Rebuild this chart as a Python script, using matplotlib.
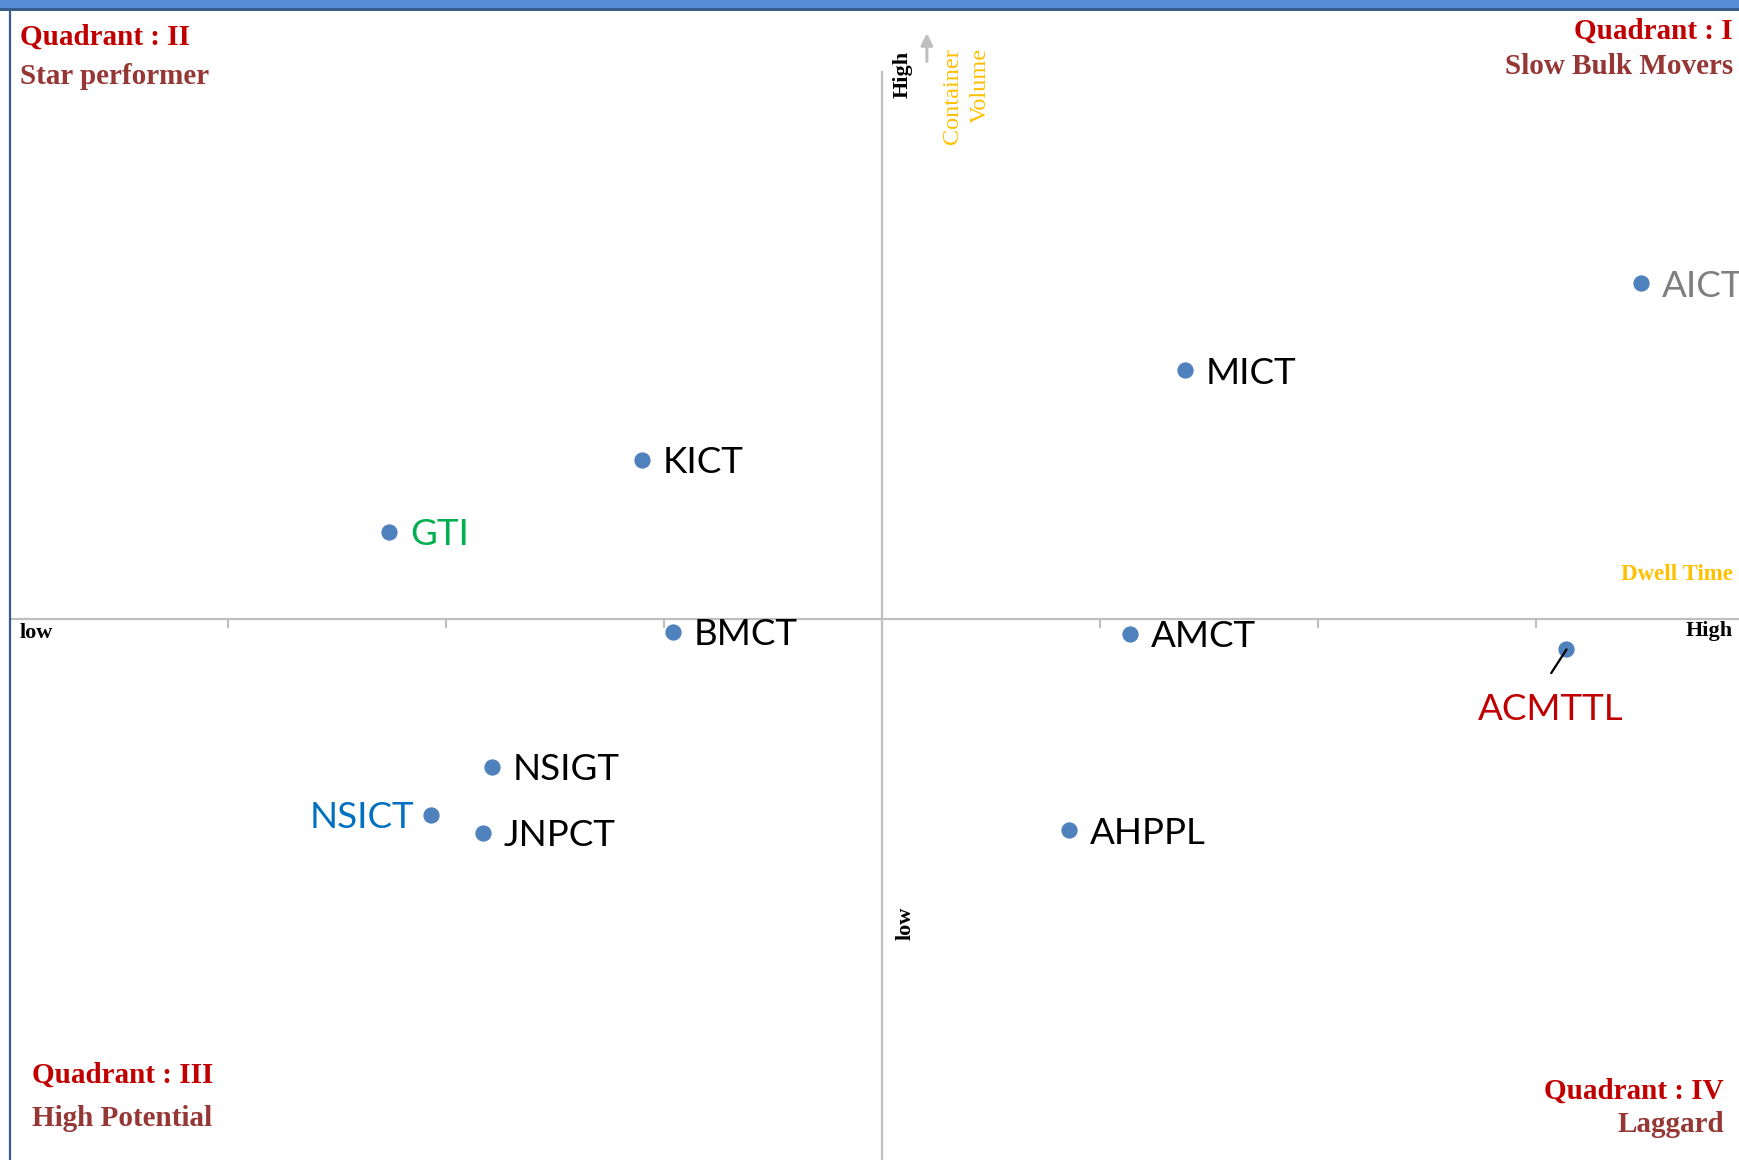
import matplotlib
matplotlib.use("Agg")
import matplotlib.pyplot as plt
from matplotlib.patches import Rectangle
from matplotlib.lines import Line2D

# terminals: x = dwell time (relative), y = container volume (relative)
names = ["AICT", "MICT", "KICT", "GTI", "BMCT", "AMCT", "ACMTTL", "NSIGT", "NSICT", "JNPCT", "AHPPL"]
dwell = [3.48, 1.39, -1.10, -2.26, -0.96, 1.14, 3.14, -1.79, -2.07, -1.83, 0.86]
volume = [1.54, 1.14, 0.73, 0.40, -0.06, -0.07, -0.14, -0.68, -0.90, -0.98, -0.97]
label_colors = ["#7F7F7F", "black", "black", "#00B050", "black", "black", "#C00000",
                "black", "#0070C0", "black", "black"]

W, H = 1740, 1160
fig = plt.figure(figsize=(W / 100, H / 100), dpi=100)


def px(x, y):  # full-size pixel (top-left origin) -> figure fraction
    return x / W, 1 - y / H


ax = fig.add_axes([10 / W, 0, 1 - 10 / W, 1 - 11 / H])
ax.set_xlim(-4, 3.936)
ax.set_ylim(-2.482, 2.789)

GRID = "#BFBFBF"
for s in ("top", "right"):
    ax.spines[s].set_visible(False)
ax.spines["bottom"].set_position(("data", 0))
ax.spines["left"].set_position(("data", 0))
ax.spines["left"].set_bounds(-2.482, 2.51)
for s in ("bottom", "left"):
    ax.spines[s].set_color(GRID)
    ax.spines[s].set_linewidth(1.6)
ax.set_xticks(range(-3, 4))
ax.set_xticklabels([])
ax.set_yticks([])
ax.tick_params(axis="x", direction="out", length=6.5, width=1.5, color=GRID)

ax.scatter(dwell, volume, s=115, color="#4F81BD", zorder=3)

LBL = ["Lato", "DejaVu Sans"]
FS = 26.5
for n, x, y, c in zip(names, dwell, volume, label_colors):
    if n == "NSICT":
        ax.annotate(n, (x, y), xytext=(-12, -2), textcoords="offset points",
                    ha="right", va="center", fontsize=FS, color=c, family=LBL)
    elif n == "ACMTTL":
        ax.annotate("", (x, y), xytext=(-11, -17), textcoords="offset points",
                    arrowprops=dict(arrowstyle="-", color="black", lw=1.6,
                                    shrinkA=0, shrinkB=0))
        ax.annotate(n, (x, y), xytext=(-11, -43), textcoords="offset points",
                    ha="center", va="center", fontsize=FS, color=c, family=LBL)
    else:
        ax.annotate(n, (x, y), xytext=(15, -2), textcoords="offset points",
                    ha="left", va="center", fontsize=FS, color=c, family=LBL)

# axis arrows
ax.annotate("", xy=(0.206, 2.70), xytext=(0.206, 2.545),
            arrowprops=dict(arrowstyle="-|>,head_width=0.35,head_length=0.7",
                            color=GRID, lw=2.2))
ax.annotate("", xy=(3.95, 0.02), xytext=(3.80, 0.02),
            arrowprops=dict(arrowstyle="-", color=GRID, lw=2.2))

# frame decorations: top bar + left border
fig.patches.append(Rectangle((0, 1 - 8 / H), 1, 8 / H, transform=fig.transFigure,
                             facecolor="#558ED5", edgecolor="none"))
fig.patches.append(Rectangle((0, 1 - 11 / H), 1, 3 / H, transform=fig.transFigure,
                             facecolor="#385D8A", edgecolor="none"))
fig.lines.append(Line2D([10 / W, 10 / W], [0, 1 - 11 / H], transform=fig.transFigure,
                        color="#385D8A", lw=1.6))

SERIF = ["Liberation Serif", "DejaVu Serif"]
RED, BROWN, GOLD = "#C00000", "#953735", "#FFC000"

quad = [
    ("Quadrant : II", RED, 20, 37, "left"),
    ("Star performer", BROWN, 20, 76, "left"),
    ("Quadrant : I", RED, 1733, 31, "right"),
    ("Slow Bulk Movers", BROWN, 1733, 67, "right"),
    ("Quadrant : III", RED, 32, 1075, "left"),
    ("High Potential", BROWN, 32, 1118, "left"),
    ("Quadrant : IV", RED, 1724, 1091, "right"),
    ("Laggard", BROWN, 1724, 1125, "right"),
]
for t, c, x, y, ha in quad:
    fig.text(*px(x, y), t, color=c, fontsize=21, fontweight="bold", family=SERIF,
             ha=ha, va="center")

fig.text(*px(20, 633), "low", fontsize=16, fontweight="bold", family=SERIF, ha="left", va="center")
fig.text(*px(1733, 631), "High", fontsize=16, fontweight="bold", family=SERIF, ha="right", va="center")
fig.text(*px(1733, 575), "Dwell Time", fontsize=16.5, fontweight="bold", family=SERIF,
         color=GOLD, ha="right", va="center")
fig.text(*px(903, 74), "High", fontsize=16, fontweight="bold", family=SERIF,
         rotation=90, ha="center", va="center")
fig.text(*px(906, 923), "low", fontsize=16, fontweight="bold", family=SERIF,
         rotation=90, ha="center", va="center")
fig.text(*px(953, 48), "Container", fontsize=17.5, family=SERIF, color=GOLD,
         rotation=90, ha="center", va="top")
fig.text(*px(980, 48), "Volume", fontsize=17.5, family=SERIF, color=GOLD,
         rotation=90, ha="center", va="top")

fig.savefig("out.png", dpi=100, facecolor="white")
